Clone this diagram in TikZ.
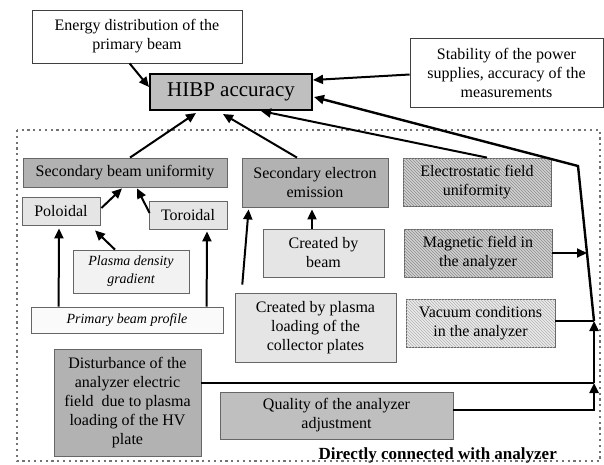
\documentclass[tikz,border=0pt]{standalone}
\usepackage{fontspec}
\setmainfont{Liberation Serif}
\usetikzlibrary{arrows.meta,patterns,calc}
\begin{document}
\begin{tikzpicture}[x=1pt,y=-1pt,
  box/.style={draw=black!60, line width=0.8pt, inner sep=0pt, align=center,
    font=\fontsize{16}{19}\selectfont},
  hatchbox/.style={box, fill=black!18, postaction={pattern=north west lines, pattern color=black!45}},
  hatchlight/.style={box, fill=black!8, postaction={pattern=north west lines, pattern color=black!30}},
  arr/.style={line width=2pt, -{Triangle[length=10pt,width=9pt]}},
  ln/.style={line width=2.2pt},
  trunk/.style={line width=2.4pt, -{Triangle[length=10pt,width=9pt]}}
]
\useasboundingbox (0,0) rectangle (604,464);
\fill[white] (0,0) rectangle (604,464);

% dotted frame
\draw[black!55, line width=2.4pt, dash pattern=on 2.2pt off 3.6pt] (17,130) rectangle (600,461);

% nodes
\node[box, draw=black!75, fill=white, minimum width=210pt, minimum height=53pt] (energy) at (137,36.5)
  {Energy distribution of the\\primary beam};
\node[box, draw=black, line width=2pt, fill=black!25, minimum width=162pt, minimum height=36pt,
  font=\fontsize{21}{24}\selectfont] (hibp) at (231,92) {HIBP accuracy};
\node[box, draw=black!75, fill=white, minimum width=193pt, minimum height=69pt] (stab) at (506.5,72.5)
  {Stability of the power\\supplies, accuracy of the\\measurements};

\node[box, fill=black!30, minimum width=204pt, minimum height=29pt] (sbu) at (125,172.5)
  {Secondary beam uniformity};
\node[box, fill=black!10, minimum width=78pt, minimum height=28pt] (pol) at (61,211) {Poloidal};
\node[box, fill=black!10, minimum width=78pt, minimum height=28pt] (tor) at (188,215) {Toroidal};
\node[box, fill=black!5, minimum width=116pt, minimum height=43pt,
  font=\fontsize{14}{18}\selectfont\itshape] (pdg) at (131,271.5) {Plasma density\\gradient};
\node[box, fill=black!2, minimum width=192pt, minimum height=26pt,
  font=\fontsize{14}{17}\selectfont\itshape] (pbp) at (127,320) {Primary beam profile};

\node[box, fill=black!30, minimum width=146pt, minimum height=49pt] (see) at (315,182.5)
  {Secondary electron\\emission};
\node[box, fill=black!10, minimum width=121pt, minimum height=48pt] (cbb) at (323.5,253)
  {Created by\\beam};
\node[box, fill=black!10, minimum width=161pt, minimum height=69pt] (cbp) at (315.5,327.5)
  {Created by plasma\\loading of the\\collector plates};

\node[hatchbox, minimum width=148pt, minimum height=48pt] (esf) at (477,182)
  {Electrostatic field\\uniformity};
\node[hatchbox, minimum width=148pt, minimum height=48pt] (mag) at (478,253)
  {Magnetic field in\\the analyzer};
\node[hatchlight, minimum width=149pt, minimum height=48pt] (vac) at (480.5,323)
  {Vacuum conditions\\in the analyzer};

\node[box, fill=black!30, minimum width=147pt, minimum height=107pt] (dist) at (127.5,402.5)
  {Disturbance of the\\analyzer electric\\field \ due to plasma\\loading of the HV\\plate};
\node[box, fill=black!25, minimum width=233pt, minimum height=47pt] (qual) at (336.5,415.5)
  {Quality of the analyzer\\adjustment};

\node[anchor=base east, inner sep=0pt, font=\fontsize{17}{20}\selectfont\bfseries] (lbl) at (557,459)
  {Directly connected with analyzer};

% coordinates on the trunk
\coordinate (t1) at (594,410);
\coordinate (t2) at (594,383);
\coordinate (t3) at (594,321);
\coordinate (t4) at (578,166);
\coordinate (tm) at (587,253);

% arrows to HIBP
\draw[arr] ($(energy.south west)+(98,0)$) -- ($(hibp.west)+(0,-5)$);
\draw[arr] ($(stab.west)+(0,2)$) -- ($(hibp.east)+(0,-12)$);
\draw[arr] ($(sbu.north)+(5,0)$) -- ($(hibp.south)+(-35,2)$);
\draw[arr] ($(see.north)+(-18,0)$) -- ($(hibp.south)+(-8,3)$);
\draw[arr] ($(esf.north)+(10,0)$) -- ($(hibp.south)+(30,0)$);

% trunk
\draw[ln] (qual.east |- t1) -- (t1) -- ($(t2)+(0,8)$);
\draw[trunk] (t1) -- (t2);
\draw[trunk] (t2) -- (t3);
\draw[trunk] (t3) -- (t4) -- ($(hibp.east)+(1,5)$);
\draw[ln] (dist.east |- t2) -- (t2);
\draw[ln] (vac.east |- t3) -- (t3);
\draw[arr] (mag.east) -- (tm);

% secondary beam group
\draw[arr] ($(pol.east)+(1,-3)$) -- ($(sbu.south)+(-3,1)$);
\draw[arr] ($(tor.west)+(1,-2)$) -- ($(sbu.south)+(12,1)$);
\draw[arr] ($(pdg.north)+(-16,0)$) -- ($(pol.south)+(34,5)$);
\draw[arr] ($(pbp.north west)+(28,0)$) -- ($(pol.south)+(-2,3)$);
\draw[arr] ($(pbp.north west)+(176,0)$) -- ($(tor.south)+(19,2)$);

% secondary electron group
\draw[arr] ($(cbb.north)+(-11.5,0)$) -- ($(see.south)+(-3,2)$);
\draw[arr, shorten <=8pt] ($(cbp.north west)+(7,0)$) -- ($(see.south west)+(7,2)$);
\end{tikzpicture}
\end{document}
